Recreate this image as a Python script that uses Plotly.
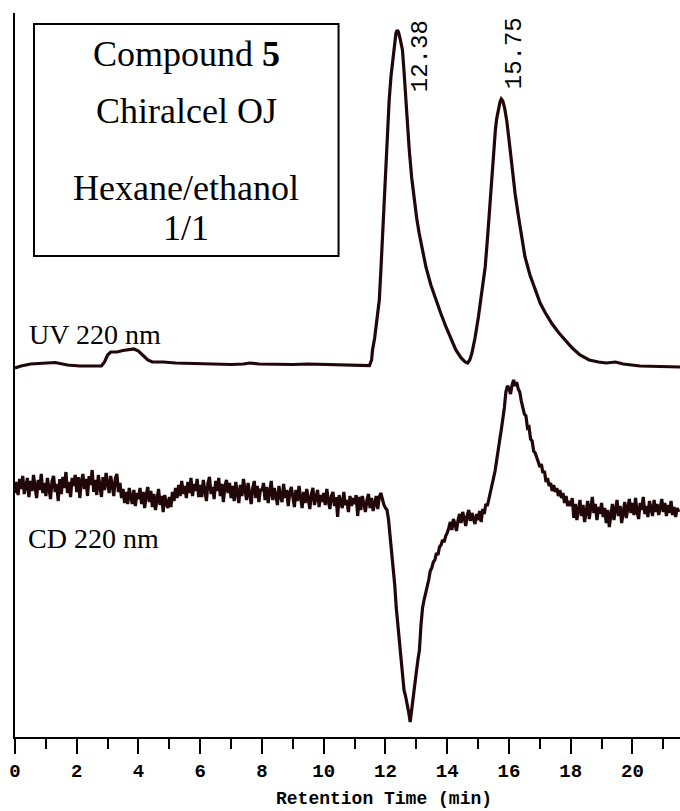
import plotly.graph_objects as go

# ---- UV detector trace (220 nm), signal in mAU relative to baseline ----
uv_time = [0.0, 0.2, 0.5, 0.9, 1.3, 1.7, 2.1, 2.5, 2.8, 2.9,
           3.0, 3.1, 3.3, 3.5, 3.7, 3.85, 4.0, 4.15, 4.3, 4.45,
           4.8, 5.2, 5.6, 6.0, 6.5, 7.0, 7.4, 7.6, 7.9, 8.5,
           9.0, 9.5, 10.0, 10.5, 11.0, 11.48, 11.55, 11.58, 11.65, 11.70,
           11.75, 11.80, 11.85, 11.91, 11.96, 12.01, 12.07, 12.12, 12.18, 12.23,
           12.30, 12.34, 12.38, 12.42, 12.47, 12.55, 12.60, 12.66, 12.72, 12.77,
           12.85, 12.93, 13.01, 13.09, 13.20, 13.31, 13.47, 13.63, 13.80, 13.96,
           14.12, 14.28, 14.45, 14.58, 14.66, 14.73, 14.80, 14.90, 15.01, 15.12,
           15.23, 15.31, 15.39, 15.45, 15.50, 15.56, 15.60, 15.66, 15.71, 15.75,
           15.80, 15.86, 15.93, 16.01, 16.09, 16.20, 16.31, 16.41, 16.52, 16.68,
           16.85, 17.01, 17.18, 17.40, 17.62, 17.84, 18.05, 18.30, 18.60, 18.90,
           19.15, 19.45, 19.70, 20.25, 21.00, 21.55]
uv_mau = [-2, 0, 2, 3, 3.5, 1, 0, 0, 0, 4,
          11, 14, 14, 15.5, 16, 17, 15, 10, 6, 4,
          4, 3, 2.5, 2, 2, 1.5, 2, 3, 2, 1.5,
          1.5, 2, 1.5, 1.2, 1, 0.5, 6, 16, 28, 40,
          52, 66, 95, 133, 166, 199, 235, 266, 290, 306,
          327, 333, 336, 334, 328, 316, 295, 266, 240, 216,
          188, 166, 148, 133, 115, 99, 81, 66, 52, 39,
          27, 16, 8, 4, 3, 6, 13, 28, 49, 72,
          99, 130, 166, 193, 216, 236, 247, 257, 264, 267,
          265, 258, 245, 224, 199, 172, 149, 128, 109, 91,
          76, 63, 53, 42, 33, 25, 18, 11, 6, 4,
          3, 4, 2, 0, -0.5, -1]

# ---- CD detector trace (220 nm), sampled every 0.05 min, in mdeg ----
cd_sample_interval = 0.05
cd_mdeg = [
    # 0.00 - 0.95
    7, 18, 5, 21, 11, 24, 6, 16, 22, 3, 19, 9, 25, 13, 2, 20, 10, 26, 7, 17,
    # 1.00 - 1.95
    4, 22, 11, 1, 19, 24, 8, 16, -1, 21, 6, 23, 12, 28, 7, 18, 3, 22, 14, 25,
    # 2.00 - 2.95
    8, 23, 2, 19, 26, 11, 21, 4, 24, 15, 30, 8, 20, 5, 25, 13, 3, 23, 10, 27,
    # 3.00 - 3.95
    19, 7, 24, 12, 4, 22, 26, 8, 17, 2, 11, -3, 8, -4, 12, 3, -4, 10, -6, 7,
    # 4.00 - 4.95
    1, 12, -4, 8, -8, 5, 13, -2, 9, -7, 6, -10, 2, 11, -5, 4, -12, 5, -3, -8,
    # 5.00 - 5.95
    3, -7, 8, -1, 12, 2, 15, 4, 19, 6, 14, 2, 18, 7, 22, 4, 16, 9, 21, 3,
    # 6.00 - 6.95
    15, 3, 20, 8, -1, 17, 23, 6, 13, 1, 19, 9, 22, 4, 16, -2, 14, 20, 7, 17,
    # 7.00 - 7.95
    2, 14, -1, 18, 7, -3, 15, 4, 21, 8, 0, 17, 5, -4, 12, 19, 2, 14, -2, 11,
    # 8.00 - 8.95
    9, 17, 0, 13, -3, 9, 19, 0, 12, 4, -5, 14, 3, -2, 16, 2, 10, -6, 7, 13,
    # 9.00 - 9.95
    5, -7, 10, -1, 14, 3, -8, 8, -3, 11, 1, -9, 6, 12, -5, 4, 10, -7, 5, -2,
    # 10.00 - 10.95
    7, -5, 11, -1, -9, 4, 8, -6, 3, -17, 5, -2, -8, 8, -5, 0, -12, 4, -6, 2,
    # 11.00 - 11.95
    -4, 5, -16, 3, -10, 4, -5, -12, 0, 6, -8, 2, -11, -1, 4, -9, 3, 7, 0, -5,
    # 12.00 - 12.95
    -8, -10, -20, -35, -48, -63, -85, -108, -126, -140,
    -156, -172, -190, -196, -203, -212, -222, -208, -196, -182,
    # 13.00 - 13.95
    -172, -160, -150, -125, -108, -100, -94, -86, -80, -71,
    -68, -62, -60, -53, -55, -47, -45, -40, -42, -36,
    # 14.00 - 14.95
    -33, -28, -22, -30, -19, -24, -31, -20, -14, -23,
    -12, -18, -26, -15, -10, -21, -13, -19, -24, -14,
    # 15.00 - 15.95
    -20, -11, -22, -9, -14, -4, -6, 1, 7, 15,
    22, 29, 38, 48, 60, 70, 80, 92, 108, 114,
    # 16.00 - 16.95
    112, 106, 115, 120, 114, 118, 111, 108, 99, 92,
    86, 84, 72, 73, 61, 59, 49, 47, 41, 38,
    # 17.00 - 17.95
    33, 36, 27, 29, 18, 22, 14, 17, 9, 15,
    8, 12, 4, 10, 2, 7, -3, 4, -6, -1,
    # 18.00 - 18.95
    -6, 2, -18, -4, -20, -8, 0, -16, -5, -22, -11, -1, -19, -8, 3, -13, -4, -20, -7, -14,
    # 19.00 - 19.95
    -3, -17, -8, -23, -10, -27, -14, -4, -20, -9, 0, -16, -6, -23, -12, -2, -18, -8, 1, -13,
    # 20.00 - 20.95
    -3, -15, 2, -12, -19, -3, -10, 3, -14, -6, -17, -1, -10, -16, 0, -12, -4, -15, -8, 1,
    # 21.00 - 21.50
    -12, -3, -16, -5, -13, -1, -15, -7, -17, -8, -12,
]
cd_time = [round(i * cd_sample_interval, 2) for i in range(len(cd_mdeg))]

# Labelled retention times (min)
peak_rt = [12.38, 15.75]
peak_labels = ["12.38", "15.75"]

x_ticks = [0, 2, 4, 6, 8, 10, 12, 14, 16, 18, 20]

# ---- stacking of the two detector traces on one drawing ----
UV_OFFSET = 371
CD_OFFSET = 237
TRACE_COLOR = "#22070a"

fig = go.Figure()
fig.add_trace(go.Scatter(
    x=uv_time, y=[v + UV_OFFSET for v in uv_mau], mode="lines",
    line=dict(color=TRACE_COLOR, width=3.2), hoverinfo="skip", showlegend=False))
fig.add_trace(go.Scatter(
    x=cd_time, y=[v + CD_OFFSET for v in cd_mdeg], mode="lines",
    line=dict(color=TRACE_COLOR, width=3.2), hoverinfo="skip", showlegend=False))

serif = "Liberation Serif"
mono = "Liberation Mono"

annotations = []
# conditions box text
box_lines = [("Compound <b>5</b>", 683), ("Chiralcel OJ", 626),
             ("Hexane/ethanol", 549), ("1/1", 509)]
for txt, yy in box_lines:
    annotations.append(dict(x=5.55, y=yy, xref="x", yref="y", text=txt,
                            showarrow=False, xanchor="center", yanchor="middle",
                            font=dict(family=serif, size=36, color="black")))
# detector labels
annotations.append(dict(x=0.40, y=UV_OFFSET + 32, xref="x", yref="y", text="UV 220 nm",
                        showarrow=False, xanchor="left", yanchor="middle",
                        font=dict(family=serif, size=28, color="black")))
annotations.append(dict(x=0.36, y=CD_OFFSET - 38, xref="x", yref="y", text="CD 220 nm",
                        showarrow=False, xanchor="left", yanchor="middle",
                        font=dict(family=serif, size=28, color="black")))
# retention time labels, written vertically beside each apex
label_xshift = [23, 13]
label_y = [681, 684]
for rt, lab, dx, yy in zip(peak_rt, peak_labels, label_xshift, label_y):
    annotations.append(dict(x=rt, y=yy, xref="x", yref="y", text=lab, textangle=-90,
                            showarrow=False, xanchor="center", yanchor="middle",
                            xshift=dx, font=dict(family=mono, size=24, color="black")))
# x axis title
annotations.append(dict(x=11.94, y=0, xref="x", yref="paper", yshift=-62,
                        text="Retention Time (min)", showarrow=False,
                        xanchor="center", yanchor="middle",
                        font=dict(family=mono, size=18, color="black", weight="bold")))

fig.update_layout(
    width=680, height=811,
    margin=dict(l=15, r=0, t=13, b=74),
    paper_bgcolor="white", plot_bgcolor="white",
    annotations=annotations,
    shapes=[dict(type="rect", xref="x", yref="y", x0=0.615, x1=10.48, y0=481, y1=713,
                 line=dict(color="black", width=2), fillcolor="rgba(0,0,0,0)")],
    xaxis=dict(
        range=[0, 21.54], showgrid=False, zeroline=False,
        showline=True, linecolor="black", linewidth=2,
        tickmode="array", tickvals=x_ticks, ticktext=[str(t) for t in x_ticks],
        ticks="outside", ticklen=15, tickwidth=2, tickcolor="black",
        minor=dict(dtick=1, tick0=0, ticks="outside", ticklen=10, tickwidth=2,
                   tickcolor="black", showgrid=False),
        tickfont=dict(family=mono, size=19, color="black", weight="bold"),
    ),
    yaxis=dict(
        range=[0, 724], showgrid=False, zeroline=False,
        showline=True, linecolor="black", linewidth=2,
        ticks="", showticklabels=False,
    ),
)

fig.write_html("out.html")
